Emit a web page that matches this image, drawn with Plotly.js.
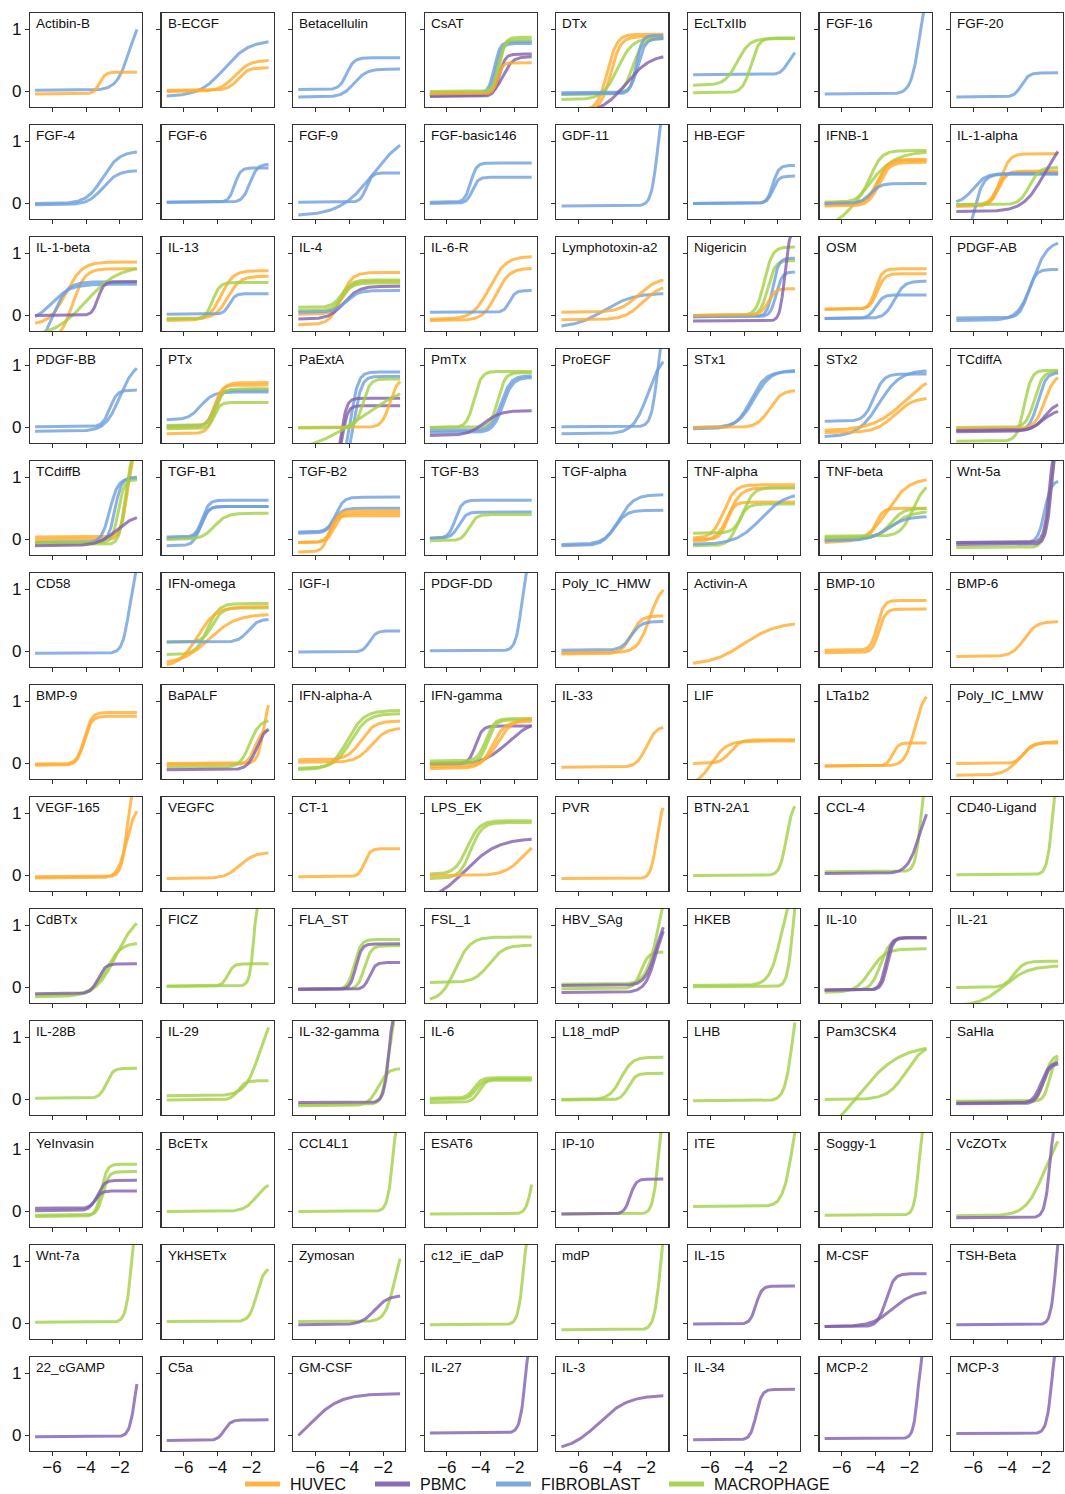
<!DOCTYPE html>
<html><head><meta charset="utf-8">
<script src="https://cdn.plot.ly/plotly-3.0.1.min.js"></script>
<style>html,body{margin:0;padding:0;background:#fff;} #chart{width:1065px;height:1494px;}</style>
</head><body><div id="chart"></div>
<script>
// ---------- data ----------
const cellTypes = ['HUVEC', 'PBMC', 'FIBROBLAST', 'MACROPHAGE'];
const cellCodes = ['H', 'P', 'F', 'M'];
const cellColors = ['#FFAB2E', '#7F5FAD', '#6E9FDC', '#A2CF45'];

const panelNames = [
  'Actibin-B','B-ECGF','Betacellulin','CsAT','DTx','EcLTxIIb','FGF-16','FGF-20',
  'FGF-4','FGF-6','FGF-9','FGF-basic146','GDF-11','HB-EGF','IFNB-1','IL-1-alpha',
  'IL-1-beta','IL-13','IL-4','IL-6-R','Lymphotoxin-a2','Nigericin','OSM','PDGF-AB',
  'PDGF-BB','PTx','PaExtA','PmTx','ProEGF','STx1','STx2','TCdiffA',
  'TCdiffB','TGF-B1','TGF-B2','TGF-B3','TGF-alpha','TNF-alpha','TNF-beta','Wnt-5a',
  'CD58','IFN-omega','IGF-I','PDGF-DD','Poly_IC_HMW','Activin-A','BMP-10','BMP-6',
  'BMP-9','BaPALF','IFN-alpha-A','IFN-gamma','IL-33','LIF','LTa1b2','Poly_IC_LMW',
  'VEGF-165','VEGFC','CT-1','LPS_EK','PVR','BTN-2A1','CCL-4','CD40-Ligand',
  'CdBTx','FICZ','FLA_ST','FSL_1','HBV_SAg','HKEB','IL-10','IL-21',
  'IL-28B','IL-29','IL-32-gamma','IL-6','L18_mdP','LHB','Pam3CSK4','SaHla',
  'YeInvasin','BcETx','CCL4L1','ESAT6','IP-10','ITE','Soggy-1','VcZOTx',
  'Wnt-7a','YkHSETx','Zymosan','c12_iE_daP','mdP','IL-15','M-CSF','TSH-Beta',
  '22_cGAMP','C5a','GM-CSF','IL-27','IL-3','IL-34','MCP-2','MCP-3'
];

const xTickVals = [-6, -4, -2];
const yTickVals = [0, 1];
const doseRange = [-7, -1];   // log10 dose span of fitted curves

// Fitted dose-response curves:
// [panel, cell, bottom, top, logEC50, hill]
const row1Curves = [
  ['Actibin-B','F',0.02,1.3,-1.44,1.15], ['Actibin-B','H',-0.04,0.31,-3.2,2.5],
  ['B-ECGF','F',-0.08,0.82,-3.6,0.6], ['B-ECGF','H',0.0,0.5,-3.0,1.0], ['B-ECGF','H',0.02,0.38,-2.8,1.5],
  ['Betacellulin','F',0.03,0.54,-4.15,2.0], ['Betacellulin','F',-0.09,0.36,-3.7,1.2],
  ['CsAT','F',-0.03,0.8,-3.2,2.5], ['CsAT','F',-0.05,0.77,-3.1,2.5], ['CsAT','M',-0.02,0.87,-2.9,2.5],
  ['CsAT','M',0.0,0.83,-2.95,2.5], ['CsAT','P',-0.08,0.6,-2.9,2.5], ['CsAT','P',-0.07,0.56,-2.7,1.5],
  ['CsAT','H',-0.04,0.46,-3.0,3.0],
  ['DTx','H',-0.3,0.92,-4.3,1.5], ['DTx','H',-0.3,0.88,-4.1,1.5], ['DTx','M',-0.13,0.86,-3.7,1.0],
  ['DTx','M',-0.05,0.85,-2.8,1.5], ['DTx','F',-0.04,0.9,-2.6,2.5], ['DTx','F',-0.02,0.85,-2.5,2.0],
  ['DTx','P',-0.35,0.6,-3.2,0.6],
  ['EcLTxIIb','F',0.27,0.68,-1.4,2.0], ['EcLTxIIb','M',0.1,0.85,-4.4,1.2], ['EcLTxIIb','M',-0.02,0.86,-3.6,1.8],
  ['FGF-16','F',-0.04,2.0,-1.35,1.6],
  ['FGF-20','F',-0.09,0.3,-3.15,2.0]
];
const row2Curves = [
  ['FGF-4','F',0.0,0.84,-3.0,0.9], ['FGF-4','F',-0.02,0.53,-3.0,1.0],
  ['FGF-6','F',0.02,0.57,-3.0,2.5], ['FGF-6','F',0.02,0.63,-2.1,2.0],
  ['FGF-9','F',0.02,0.49,-3.0,2.5], ['FGF-9','F',-0.2,1.15,-2.6,0.45],
  ['FGF-basic146','F',0.02,0.65,-4.6,2.5], ['FGF-basic146','F',0.0,0.42,-4.5,2.5],
  ['GDF-11','F',-0.04,2.0,-1.3,2.2],
  ['HB-EGF','F',0.0,0.61,-2.3,2.5], ['HB-EGF','F',0.0,0.44,-2.3,2.5],
  ['IFNB-1','M',0.02,0.85,-4.3,1.3], ['IFNB-1','M',-0.45,0.84,-4.7,0.5], ['IFNB-1','H',-0.02,0.71,-3.9,1.4],
  ['IFNB-1','H',0.0,0.69,-3.9,1.4], ['IFNB-1','H',-0.04,0.66,-3.8,1.4], ['IFNB-1','F',0.0,0.32,-4.3,1.5],
  ['IL-1-alpha','H',-0.05,0.8,-4.4,1.6], ['IL-1-alpha','H',-0.02,0.5,-4.6,1.8], ['IL-1-alpha','H',-0.03,0.52,-4.5,1.8],
  ['IL-1-alpha','F',0.0,0.48,-6.0,1.2], ['IL-1-alpha','F',-0.8,0.47,-6.0,1.5], ['IL-1-alpha','M',-0.02,0.58,-2.7,1.5],
  ['IL-1-alpha','P',-0.13,1.1,-1.8,0.7]
];
const row3Curves = [
  ['IL-1-beta','H',-0.15,0.86,-5.2,0.9], ['IL-1-beta','H',-0.4,0.75,-4.8,1.2], ['IL-1-beta','F',-0.1,0.5,-6.0,0.8],
  ['IL-1-beta','F',-0.6,0.54,-6.0,1.0], ['IL-1-beta','M',-0.35,0.8,-4.0,0.45], ['IL-1-beta','P',0.0,0.54,-3.3,2.5],
  ['IL-13','H',-0.08,0.72,-3.8,1.2], ['IL-13','H',-0.05,0.63,-3.4,1.2], ['IL-13','M',-0.06,0.53,-4.3,2.0],
  ['IL-13','F',0.02,0.35,-3.3,2.5],
  ['IL-4','H',-0.15,0.69,-4.5,1.3], ['IL-4','H',0.02,0.55,-4.4,1.5], ['IL-4','M',0.13,0.57,-4.4,1.5],
  ['IL-4','M',0.08,0.52,-4.4,1.5], ['IL-4','P',-0.06,0.47,-4.3,1.0], ['IL-4','F',0.05,0.4,-4.2,1.2],
  ['IL-6-R','H',-0.06,0.95,-3.5,0.9], ['IL-6-R','H',-0.08,0.76,-3.1,1.1], ['IL-6-R','F',0.05,0.4,-2.3,2.5],
  ['Lymphotoxin-a2','F',-0.2,0.36,-4.5,0.5], ['Lymphotoxin-a2','H',0.05,0.6,-2.5,0.8], ['Lymphotoxin-a2','H',-0.07,0.5,-2.2,0.8],
  ['Nigericin','M',0.0,1.1,-2.8,1.8], ['Nigericin','M',0.0,0.88,-2.6,2.0], ['Nigericin','F',-0.02,0.92,-2.3,2.5],
  ['Nigericin','F',-0.02,0.7,-2.1,2.5], ['Nigericin','H',0.0,0.43,-2.6,2.0], ['Nigericin','P',-0.09,1.4,-1.6,3.0],
  ['OSM','H',0.1,0.75,-4.0,2.2], ['OSM','H',0.1,0.67,-3.9,2.0], ['OSM','F',-0.05,0.55,-2.9,1.5], ['OSM','F',-0.05,0.33,-4.0,2.0],
  ['PDGF-AB','F',-0.08,1.2,-2.5,1.0], ['PDGF-AB','F',-0.04,0.74,-2.8,1.8]
];
const row4Curves = [
  ['PDGF-BB','F',0.01,0.6,-2.6,2.0], ['PDGF-BB','F',-0.06,1.05,-2.0,1.0],
  ['PTx','F',0.12,0.57,-5.0,1.2], ['PTx','F',0.02,0.6,-4.2,2.0], ['PTx','H',-0.1,0.72,-4.1,1.8],
  ['PTx','H',0.0,0.68,-4.2,2.0], ['PTx','M',0.03,0.62,-4.1,2.0], ['PTx','M',-0.02,0.4,-4.2,2.5],
  ['PaExtA','F',-0.6,0.89,-3.9,2.0], ['PaExtA','F',-0.6,0.82,-3.7,2.0], ['PaExtA','P',-0.8,0.47,-4.5,2.5],
  ['PaExtA','P',-0.8,0.35,-4.45,2.5], ['PaExtA','H',0.0,0.8,-1.6,1.8], ['PaExtA','M',-0.42,0.78,-3.2,0.275],
  ['PaExtA','M',-0.01,0.78,-3.2,2.0],
  ['PmTx','M',0.0,0.9,-4.4,2.0], ['PmTx','M',0.0,0.88,-3.0,2.0], ['PmTx','F',-0.05,0.83,-2.8,1.5],
  ['PmTx','F',-0.08,0.8,-2.7,1.5], ['PmTx','P',-0.13,0.27,-3.8,0.9],
  ['ProEGF','F',0.01,2.0,-1.3,2.2], ['ProEGF','F',-0.1,1.2,-1.9,1.0],
  ['STx1','F',-0.02,0.9,-3.6,1.0], ['STx1','F',0.0,0.92,-3.4,0.9], ['STx1','H',0.0,0.6,-2.5,1.2],
  ['STx2','F',0.1,0.86,-4.1,1.5], ['STx2','F',-0.15,0.92,-3.8,0.7], ['STx2','H',-0.05,0.93,-2.2,0.45],
  ['STx2','H',-0.08,0.48,-2.9,0.8],
  ['TCdiffA','M',-0.22,0.92,-3.0,2.0], ['TCdiffA','M',0.0,0.9,-2.4,1.8], ['TCdiffA','F',-0.05,0.88,-2.2,1.8],
  ['TCdiffA','H',-0.02,0.85,-1.8,1.5], ['TCdiffA','P',-0.05,0.4,-1.8,1.3], ['TCdiffA','P',-0.07,0.3,-1.9,1.0]
];
const row5Curves = [
  ['TCdiffB','H',0.04,1.8,-1.5,2.2], ['TCdiffB','H',0.0,1.6,-1.6,2.5], ['TCdiffB','F',-0.05,0.98,-2.6,1.8],
  ['TCdiffB','F',-0.05,1.0,-2.3,2.2], ['TCdiffB','M',-0.05,0.96,-2.1,2.5], ['TCdiffB','M',-0.08,1.4,-1.7,2.5],
  ['TCdiffB','P',-0.1,0.4,-2.2,0.8],
  ['TGF-B1','F',0.04,0.63,-4.9,2.2], ['TGF-B1','F',0.02,0.53,-4.9,2.2], ['TGF-B1','F',-0.1,0.53,-5.0,2.0],
  ['TGF-B1','M',0.0,0.42,-4.2,1.2],
  ['TGF-B2','F',0.12,0.68,-4.8,1.8], ['TGF-B2','F',0.1,0.5,-4.9,1.8], ['TGF-B2','H',-0.05,0.46,-5.0,2.0],
  ['TGF-B2','H',-0.05,0.42,-4.9,2.0], ['TGF-B2','H',-0.2,0.38,-5.2,2.2],
  ['TGF-B3','F',0.02,0.63,-5.5,2.2], ['TGF-B3','F',0.02,0.44,-5.3,2.0], ['TGF-B3','M',-0.02,0.4,-4.7,2.0],
  ['TGF-alpha','F',-0.08,0.72,-3.6,1.0], ['TGF-alpha','F',-0.1,0.47,-3.9,1.2],
  ['TNF-alpha','H',0.02,0.88,-5.2,1.3], ['TNF-alpha','H',-0.03,0.83,-4.9,1.2], ['TNF-alpha','H',0.0,0.6,-5.0,2.0],
  ['TNF-alpha','M',0.1,0.83,-4.0,1.5], ['TNF-alpha','M',-0.1,0.57,-4.4,1.6], ['TNF-alpha','F',-0.08,0.75,-3.0,0.6],
  ['TNF-beta','H',-0.05,0.98,-3.3,0.7], ['TNF-beta','H',0.0,0.5,-4.0,2.0], ['TNF-beta','M',0.05,0.92,-1.8,1.2],
  ['TNF-beta','M',0.03,0.5,-3.1,1.2], ['TNF-beta','M',0.0,0.45,-3.0,0.8], ['TNF-beta','F',-0.02,0.37,-3.3,0.8],
  ['Wnt-5a','F',-0.05,0.95,-1.8,2.2], ['Wnt-5a','M',-0.13,2.0,-1.4,2.2], ['Wnt-5a','P',-0.05,2.0,-1.45,2.5],
  ['Wnt-5a','P',-0.08,2.0,-1.35,2.5]
];
const row6Curves = [
  ['CD58','F',-0.03,1.6,-1.4,2.0],
  ['IFN-omega','M',-0.05,0.77,-4.6,1.3], ['IFN-omega','M',0.15,0.7,-4.3,1.5], ['IFN-omega','H',-0.25,0.72,-5.2,0.8],
  ['IFN-omega','H',-0.2,0.6,-4.5,0.55], ['IFN-omega','F',0.15,0.52,-2.2,1.5],
  ['IGF-I','F',-0.01,0.33,-2.8,2.2],
  ['PDGF-DD','F',0.01,2.0,-1.5,2.2],
  ['Poly_IC_HMW','H',-0.02,1.1,-1.8,1.2], ['Poly_IC_HMW','H',-0.04,0.57,-2.9,1.5], ['Poly_IC_HMW','F',0.02,0.48,-2.9,1.5],
  ['Activin-A','H',-0.22,0.47,-4.0,0.45],
  ['BMP-10','H',0.02,0.82,-3.9,2.2], ['BMP-10','H',-0.02,0.68,-3.8,2.2],
  ['BMP-6','H',-0.08,0.48,-3.0,1.2]
];
const row7Curves = [
  ['BMP-9','H',-0.01,0.82,-4.1,2.0], ['BMP-9','H',-0.03,0.76,-4.1,2.0],
  ['BaPALF','H',0.0,1.1,-1.3,2.5], ['BaPALF','H',-0.02,0.55,-1.8,2.0], ['BaPALF','M',-0.06,0.7,-2.1,1.5],
  ['BaPALF','P',-0.1,0.6,-1.7,1.6],
  ['IFN-alpha-A','M',-0.1,0.85,-4.1,0.9], ['IFN-alpha-A','M',-0.08,0.8,-3.9,0.9], ['IFN-alpha-A','H',0.06,0.68,-3.3,1.1],
  ['IFN-alpha-A','H',0.02,0.57,-2.7,1.0],
  ['IFN-gamma','P',0.0,0.6,-4.3,2.2], ['IFN-gamma','P',-0.02,0.7,-2.4,0.6], ['IFN-gamma','M',0.04,0.72,-3.7,1.8],
  ['IFN-gamma','M',0.0,0.7,-3.6,1.8], ['IFN-gamma','H',-0.08,0.68,-3.3,1.2], ['IFN-gamma','H',-0.05,0.72,-3.0,1.0],
  ['IL-33','H',-0.06,0.6,-2.0,1.5],
  ['LIF','H',0.0,0.38,-4.8,1.5], ['LIF','H',-0.35,0.36,-5.9,1.0],
  ['LTa1b2','H',-0.04,1.17,-1.7,1.5], ['LTa1b2','H',-0.04,0.33,-3.0,2.5],
  ['Poly_IC_LMW','H',0.0,0.33,-3.0,1.8], ['Poly_IC_LMW','H',-0.19,0.35,-3.3,1.0]
];
const row8Curves = [
  ['VEGF-165','H',-0.02,2.0,-1.5,2.3], ['VEGF-165','H',-0.04,1.15,-1.6,1.6],
  ['VEGFC','H',-0.05,0.37,-2.7,1.0],
  ['CT-1','H',-0.02,0.43,-3.1,2.5],
  ['LPS_EK','M',0.02,0.88,-4.8,1.2], ['LPS_EK','M',-0.05,0.85,-4.6,1.3], ['LPS_EK','P',-0.45,0.6,-4.93,0.45],
  ['LPS_EK','H',0.0,0.62,-1.5,0.8],
  ['PVR','H',-0.05,1.2,-1.4,2.5],
  ['BTN-2A1','M',0.0,1.2,-1.5,2.2],
  ['CCL-4','M',0.06,2.0,-1.3,2.5], ['CCL-4','P',0.03,1.3,-1.4,1.2],
  ['CD40-Ligand','M',0.01,2.0,-1.3,2.5]
];
const row9Curves = [
  ['CdBTx','M',-0.15,1.2,-2.2,0.7], ['CdBTx','M',-0.12,0.72,-2.8,1.0], ['CdBTx','P',-0.1,0.38,-3.3,2.0],
  ['FICZ','M',0.02,2.0,-1.8,3.0], ['FICZ','M',0.02,0.38,-3.4,2.5],
  ['FLA_ST','M',-0.03,0.77,-3.7,2.2], ['FLA_ST','M',-0.03,0.67,-3.1,2.2], ['FLA_ST','P',-0.03,0.7,-3.6,2.5],
  ['FLA_ST','P',-0.03,0.4,-2.8,2.5],
  ['FSL_1','M',-0.22,0.81,-5.5,1.0], ['FSL_1','M',0.08,0.68,-3.5,1.0],
  ['HBV_SAg','M',0.05,2.0,-1.25,1.2], ['HBV_SAg','M',-0.02,0.57,-2.3,2.0], ['HBV_SAg','P',0.03,1.25,-1.4,1.3],
  ['HBV_SAg','P',-0.08,1.2,-1.4,1.3],
  ['HKEB','M',0.03,2.0,-1.7,1.2], ['HKEB','M',0.01,2.0,-1.1,2.5],
  ['IL-10','M',-0.08,0.62,-4.3,1.0], ['IL-10','M',-0.05,0.8,-3.7,1.5], ['IL-10','P',-0.04,0.8,-3.3,2.5],
  ['IL-10','P',-0.04,0.8,-3.4,2.5],
  ['IL-21','M',0.0,0.42,-3.6,1.5], ['IL-21','M',-0.3,0.35,-4.2,0.6]
];
const row10Curves = [
  ['IL-28B','M',0.02,0.5,-2.8,2.2],
  ['IL-29','M',0.06,1.5,-1.5,1.0], ['IL-29','M',-0.01,0.3,-2.8,2.0],
  ['IL-32-gamma','M',-0.1,0.5,-2.3,1.5], ['IL-32-gamma','M',-0.08,2.0,-1.6,2.2], ['IL-32-gamma','P',-0.05,2.0,-1.58,2.5],
  ['IL-6','M',0.02,0.35,-4.4,2.0], ['IL-6','M',-0.05,0.33,-4.1,2.0], ['IL-6','M',0.0,0.31,-4.3,2.0],
  ['L18_mdP','M',0.0,0.68,-3.5,1.3], ['L18_mdP','M',-0.01,0.42,-3.06,2.0],
  ['LHB','M',-0.02,2.0,-1.12,1.8],
  ['Pam3CSK4','M',-0.8,0.88,-5.1,0.35], ['Pam3CSK4','M',0.0,0.9,-2.2,0.8],
  ['SaHla','M',-0.04,0.72,-1.8,2.0], ['SaHla','M',-0.03,0.7,-1.5,2.5], ['SaHla','P',-0.06,0.6,-2.0,1.8],
  ['SaHla','P',-0.07,0.58,-1.9,2.0]
];
const row11Curves = [
  ['YeInvasin','M',-0.08,0.76,-3.1,2.5], ['YeInvasin','M',-0.06,0.64,-3.0,2.5], ['YeInvasin','P',0.05,0.5,-3.3,2.2],
  ['YeInvasin','P',0.01,0.33,-3.5,2.2],
  ['BcETx','M',0.0,0.48,-1.7,1.2],
  ['CCL4L1','M',0.0,2.0,-1.38,2.5],
  ['ESAT6','M',-0.04,0.9,-1.0,2.5],
  ['IP-10','M',-0.04,2.0,-1.26,2.5], ['IP-10','P',-0.04,0.52,-2.96,2.5],
  ['ITE','M',0.08,2.0,-1.14,1.5],
  ['Soggy-1','M',-0.06,2.0,-1.39,2.8],
  ['VcZOTx','M',-0.07,1.4,-1.8,0.8], ['VcZOTx','P',-0.1,2.0,-1.42,2.5]
];
const row12Curves = [
  ['Wnt-7a','M',0.02,2.0,-1.3,2.5],
  ['YkHSETx','M',0.03,0.9,-1.7,2.0],
  ['Zymosan','M',0.03,1.4,-1.3,1.5], ['Zymosan','P',-0.02,0.45,-2.5,1.1],
  ['c12_iE_daP','M',-0.02,2.0,-1.44,2.5],
  ['mdP','M',-0.1,2.0,-1.16,2.3],
  ['IL-15','P',-0.01,0.6,-3.3,2.5],
  ['M-CSF','P',-0.05,0.8,-3.4,1.8], ['M-CSF','P',-0.05,0.52,-3.0,0.7],
  ['TSH-Beta','P',-0.02,2.0,-1.11,2.7]
];
const row13Curves = [
  ['22_cGAMP','P',-0.02,1.3,-1.1,2.5],
  ['C5a','P',-0.08,0.25,-3.6,2.2],
  ['GM-CSF','P',-0.3,0.67,-6.3,0.5],
  ['IL-27','P',0.04,2.0,-1.34,2.5],
  ['IL-3','P',-0.25,0.65,-4.8,0.5],
  ['IL-34','P',-0.07,0.74,-3.28,2.5],
  ['MCP-2','P',-0.05,2.0,-1.43,2.8],
  ['MCP-3','P',0.03,2.0,-1.32,2.5]
];

// ---------- build ----------
const allCurves = [].concat(row1Curves,row2Curves,row3Curves,row4Curves,row5Curves,row6Curves,
  row7Curves,row8Curves,row9Curves,row10Curves,row11Curves,row12Curves,row13Curves);

const W = 1065, H = 1494;
const NCOL = 8, NROW = 13;
const FONT = 'Liberation Sans, Arial, Helvetica, sans-serif';

function logistic(x, b, t, c, h) { return b + (t - b) / (1 + Math.pow(10, (c - x) * h)); }

const nPts = 121;
const xs = [];
for (let i = 0; i < nPts; i++) xs.push(doseRange[0] + (doseRange[1] - doseRange[0]) * i / (nPts - 1));

const traces = [];
const layout = {
  width: W, height: H,
  margin: {l: 0, r: 0, t: 0, b: 0},
  paper_bgcolor: '#fff', plot_bgcolor: '#fff',
  showlegend: false,
  font: {family: FONT, color: '#111'},
  annotations: [],
  shapes: []
};

panelNames.forEach((name, idx) => {
  const r = Math.floor(idx / NCOL), c = idx % NCOL;
  const k = idx + 1, s = k === 1 ? '' : String(k);
  const left = 30 + c * 131.6, top = 13 + r * 112;
  layout['xaxis' + s] = {
    domain: [left / W, (left + 112) / W], range: [-7.3, -0.7],
    tickvals: xTickVals, ticktext: xTickVals.map(v => '\u2212' + Math.abs(v)),
    ticks: 'outside', ticklen: 4, tickwidth: 1, tickcolor: '#333', ticklabelstandoff: -4,
    showticklabels: r === NROW - 1, tickfont: {size: 17, family: FONT, color: '#111'},
    showline: true, mirror: true, linecolor: '#333', linewidth: 1.2,
    showgrid: false, zeroline: false, anchor: 'y' + s, fixedrange: true, automargin: false
  };
  layout['yaxis' + s] = {
    domain: [1 - (top + 94) / H, 1 - top / H], range: [-0.25, 1.26],
    tickvals: yTickVals, ticks: 'outside', ticklen: 4, tickwidth: 1, tickcolor: '#333',
    showticklabels: c === 0, tickfont: {size: 17, family: FONT, color: '#111'},
    showline: true, mirror: true, linecolor: '#333', linewidth: 1.2,
    showgrid: false, zeroline: false, anchor: 'x' + s, fixedrange: true, automargin: false
  };
  layout.annotations.push({
    text: name, xref: 'x' + s + ' domain', yref: 'y' + s + ' domain',
    x: 0.035, y: 0.985, xanchor: 'left', yanchor: 'top', showarrow: false,
    font: {size: 13.5, family: FONT, color: '#111'}
  });
});

allCurves.forEach(cv => {
  const [name, code, b, t, c, h] = cv;
  const idx = panelNames.indexOf(name);
  const k = idx + 1, s = k === 1 ? '' : String(k);
  const ci = cellCodes.indexOf(code);
  traces.push({
    type: 'scatter', mode: 'lines', x: xs, y: xs.map(x => logistic(x, b, t, c, h)),
    xaxis: 'x' + s, yaxis: 'y' + s, showlegend: false, hoverinfo: 'skip',
    line: {color: cellColors[ci], width: 3}, opacity: 0.8
  });
});

// legend (drawn as line keys + labels along the bottom)
const legendLineStart = [245, 375, 496, 669];
const legendYpx = 1484;
cellTypes.forEach((ct, i) => {
  const x0 = legendLineStart[i];
  layout.shapes.push({
    type: 'line', xref: 'paper', yref: 'paper',
    x0: x0 / W, x1: (x0 + 35) / W, y0: 1 - legendYpx / H, y1: 1 - legendYpx / H,
    line: {color: cellColors[i], width: 5}, opacity: 0.9
  });
  layout.annotations.push({
    text: ct, xref: 'paper', yref: 'paper', x: (x0 + 44) / W, y: 0,
    xanchor: 'left', yanchor: 'bottom', showarrow: false, borderpad: 0,
    font: {size: 16, family: FONT, color: '#111'}
  });
});

Plotly.newPlot('chart', traces, layout, {staticPlot: true, displayModeBar: false});
</script>
</body></html>
